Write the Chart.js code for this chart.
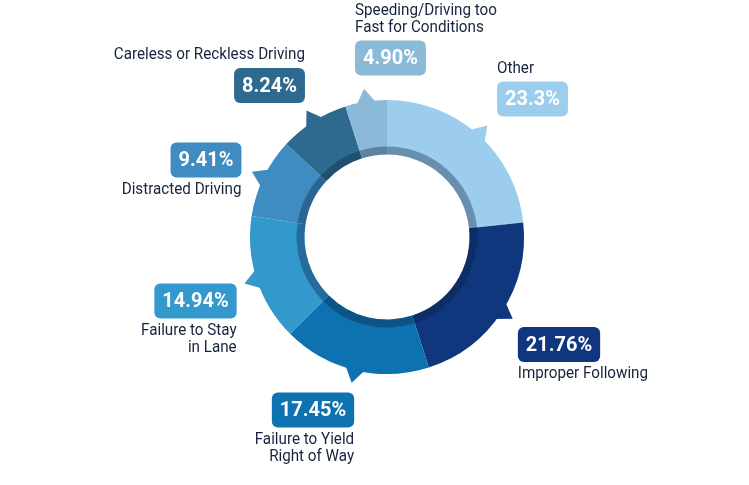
<!DOCTYPE html>
<html>
<head>
<meta charset="utf-8">
<script src="https://cdn.jsdelivr.net/npm/chart.js@4.4.0/dist/chart.umd.min.js"></script>
<style>
html, body { margin: 0; padding: 0; background: #fff; }
#wrap { width: 749px; height: 485px; position: relative; }
</style>
</head>
<body>
<div id="wrap"><canvas id="main"></canvas></div>
<script>
// data, clockwise from 12 o'clock
var categories = ['Other', 'Improper Following', 'Failure to Yield Right of Way', 'Failure to Stay in Lane',
	'Distracted Driving', 'Careless or Reckless Driving', 'Speeding/Driving too Fast for Conditions'];
var labelLines = [['Other'], ['Improper Following'], ['Failure to Yield', 'Right of Way'], ['Failure to Stay', 'in Lane'],
	['Distracted Driving'], ['Careless or Reckless Driving'], ['Speeding/Driving too', 'Fast for Conditions']];
var shares = [23.3, 21.76, 17.45, 14.94, 9.41, 8.24, 4.90];
var shareLabels = ['23.3%', '21.76%', '17.45%', '14.94%', '9.41%', '8.24%', '4.90%'];
var colors = ['#9dcdec', '#10377d', '#0e72b0', '#3399cd', '#3e8cc1', '#2e6a8f', '#8bbad9'];

// callout layout: box centre offset from ring centre, where the caption goes, and which edge it hugs
var callouts = [
	{dx: 145.5, dy: -138, caption: 'above', align: 'left'},
	{dx: 172, dy: 107.5, caption: 'below', align: 'left'},
	{dx: -74, dy: 173, caption: 'below', align: 'right'},
	{dx: -191.5, dy: 64, caption: 'below', align: 'right'},
	{dx: -181, dy: -77, caption: 'below', align: 'right'},
	{dx: -117.5, dy: -151.5, caption: 'above', align: 'right'},
	{dx: 3.5, dy: -179, caption: 'above', align: 'left'}
];

var calloutPlugin = {
	id: 'callouts',
	afterDatasetsDraw: function(chart, args, opts){
		var ctx = chart.ctx,
			meta = chart.getDatasetMeta(0);
		meta.data.forEach(function(arc, i){
			var p = arc.getProps(['x', 'y', 'startAngle', 'endAngle', 'innerRadius', 'outerRadius'], true);
			var col = colors[i];
			ctx.save();
			//inner shaded band
			ctx.beginPath();
			ctx.arc(p.x, p.y, p.innerRadius + 0.5, p.startAngle, p.endAngle);
			ctx.arc(p.x, p.y, p.innerRadius - opts.band, p.endAngle, p.startAngle, true);
			ctx.closePath();
			ctx.fillStyle = col;
			ctx.fill();
			ctx.fillStyle = opts.bandShade;
			ctx.fill();
			//pointer
			var mid = (p.startAngle + p.endAngle) / 2,
				h = opts.pointerHalf,
				r = p.outerRadius - 2,
				tipR = p.outerRadius + opts.pointerLen;
			ctx.beginPath();
			ctx.moveTo(p.x + Math.cos(mid - h) * r, p.y + Math.sin(mid - h) * r);
			ctx.lineTo(p.x + Math.cos(mid) * tipR, p.y + Math.sin(mid) * tipR);
			ctx.lineTo(p.x + Math.cos(mid + h) * r, p.y + Math.sin(mid + h) * r);
			ctx.closePath();
			ctx.fillStyle = col;
			ctx.fill();
			ctx.restore();

			//box
			var c = callouts[i];
			var bx = p.x + c.dx, by = p.y + c.dy;
			ctx.save();
			ctx.font = 'bold 21px Roboto';
			var tw = ctx.measureText(shareLabels[i]).width * opts.squeeze;
			var bw = tw + 2 * opts.boxPad, bh = opts.boxH;
			var left = bx - bw / 2, top = by - bh / 2;
			ctx.beginPath();
			ctx.roundRect(left, top, bw, bh, 6);
			ctx.fillStyle = col;
			ctx.fill();
			ctx.fillStyle = '#ffffff';
			ctx.textAlign = 'center';
			ctx.textBaseline = 'middle';
			ctx.translate(bx, by + 1);
			ctx.scale(opts.squeeze, 1);
			ctx.fillText(shareLabels[i], 0, 0);
			ctx.restore();

			//caption
			ctx.save();
			ctx.font = '16px Roboto';
			ctx.fillStyle = '#17223d';
			ctx.textBaseline = 'middle';
			ctx.textAlign = c.align;
			var lines = labelLines[i];
			var x = c.align === 'left' ? left : left + bw;
			for (var k = 0; k < lines.length; k++){
				var y;
				if (c.caption === 'above'){
					y = top - 13 - (lines.length - 1 - k) * 17;
				}else{
					y = top + bh + 12 + k * 17;
				}
				ctx.save();
				ctx.translate(x, y);
				ctx.scale(opts.captionSqueeze, 1);
				ctx.fillText(lines[k], 0, 0);
				ctx.restore();
			}
			ctx.restore();
		});
	}
};

var ctx = document.getElementById('main').getContext('2d');
var chart = new Chart(ctx, {
	type: 'doughnut',
	data: {
		labels: categories,
		datasets: [{
			data: shares,
			backgroundColor: colors,
			borderWidth: 0,
			hoverOffset: 0
		}]
	},
	options: {
		responsive: true,
		maintainAspectRatio: false,
		animation: false,
		cutout: '65.7%',
		layout: {padding: {top: 100, bottom: 111, left: 250, right: 225}},
		events: [],
		plugins: {
			legend: {display: false},
			tooltip: {enabled: false},
			callouts: {
				band: 7.5,
				bandShade: 'rgba(10,30,60,0.35)',
				pointerHalf: 0.075,
				pointerLen: 13,
				squeeze: 0.95,
				captionSqueeze: 0.95,
				boxPad: 8,
				boxH: 35
			}
		}
	},
	plugins: [calloutPlugin]
});
</script>
</body>
</html>
